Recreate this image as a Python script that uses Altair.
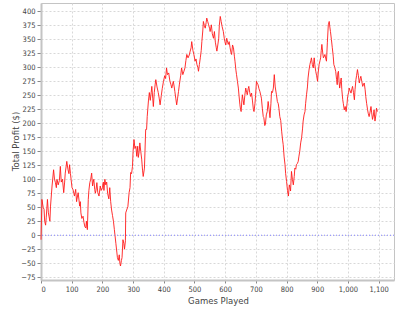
import altair as alt
import pandas as pd

games = [0, 3, 7, 10, 12, 15, 17, 21, 24, 26, 29, 31, 36, 41, 44, 47, 50, 52, 56, 60,
         63, 66, 70, 74, 77, 79, 84, 88, 91, 93, 96, 98, 101, 104, 107, 109, 113, 116, 117, 121,
         126, 128, 130, 133, 137, 140, 143, 146, 148, 151, 154, 156, 159, 162, 165, 168, 170, 172, 175, 177,
         179, 182, 185, 189, 193, 196, 200, 203, 205, 208, 211, 214, 217, 221, 224, 227, 230, 233, 236, 239,
         241, 244, 247, 249, 252, 255, 257, 259, 262, 264, 267, 270, 272, 275, 276, 279, 283, 287, 290, 292,
         295, 298, 300, 303, 306, 309, 312, 315, 317, 320, 322, 325, 328, 331, 333, 337, 341, 344, 346, 350,
         353, 356, 359, 361, 364, 366, 369, 372, 374, 378, 382, 385, 388, 392, 395, 399, 403, 406, 409, 412,
         416, 420, 423, 426, 429, 431, 434, 436, 439, 442, 445, 448, 451, 455, 458, 462, 465, 469, 472, 475,
         479, 483, 486, 489, 491, 495, 498, 502, 505, 508, 511, 513, 516, 519, 522, 524, 527, 529, 532, 535,
         538, 540, 543, 546, 549, 551, 555, 558, 562, 565, 568, 571, 573, 576, 579, 581, 584, 587, 590, 594,
         597, 599, 602, 605, 608, 610, 613, 616, 619, 621, 624, 627, 630, 632, 635, 637, 640, 643, 645, 648,
         650, 652, 654, 656, 659, 661, 664, 667, 670, 672, 675, 677, 680, 683, 686, 689, 692, 694, 697, 699,
         702, 704, 707, 710, 713, 716, 718, 721, 724, 726, 729, 731, 734, 737, 740, 743, 746, 749, 751, 754,
         757, 760, 763, 767, 770, 773, 775, 778, 781, 784, 787, 789, 792, 795, 797, 800, 803, 806, 809, 811,
         813, 816, 819, 822, 825, 827, 830, 832, 835, 838, 840, 843, 846, 849, 852, 854, 857, 860, 862, 865,
         868, 870, 873, 876, 879, 881, 884, 887, 890, 892, 895, 898, 901, 903, 906, 909, 911, 913, 915, 918,
         920, 923, 925, 928, 930, 933, 936, 939, 941, 943, 946, 949, 952, 954, 957, 960, 963, 965, 967, 969,
         971, 973, 976, 978, 980, 983, 985, 988, 991, 994, 997, 999, 1002, 1004, 1007, 1010, 1013, 1015, 1018, 1021,
         1023, 1026, 1028, 1031, 1034, 1037, 1040, 1042, 1045, 1048, 1051, 1053, 1056, 1058, 1061, 1064, 1066, 1069, 1072, 1075,
         1077, 1080, 1083, 1085, 1088, 1091, 1093, 1096]

profit = [-8, 64, 50, 46, 25, 18, 31, 64, 40, 34, 25, 52, 88, 117, 100, 94, 85, 100, 90, 98,
          123, 95, 100, 76, 95, 111, 132, 117, 110, 126, 110, 100, 85, 82, 75, 70, 82, 60, 64, 76,
          52, 60, 40, 30, 34, 23, 15, 13, 25, 10, 64, 80, 94, 100, 111, 88, 95, 100, 82, 75,
          80, 94, 76, 70, 88, 80, 85, 95, 80, 100, 90, 95, 75, 65, 85, 60, 45, 35, 25, 10,
          0, -15, -30, -40, -45, -35, -50, -55, -45, -40, -8, -15, -25, -10, 40, 45, 51, 76, 85, 112,
          110, 123, 150, 171, 155, 159, 141, 159, 139, 150, 165, 150, 136, 115, 105, 120, 189, 189, 212, 240,
          255, 241, 255, 266, 245, 230, 255, 270, 278, 265, 255, 245, 233, 250, 262, 275, 285, 280, 299, 287,
          290, 275, 270, 263, 270, 275, 265, 257, 245, 233, 245, 257, 270, 285, 299, 287, 292, 299, 312, 323,
          317, 322, 329, 335, 346, 330, 323, 311, 315, 305, 300, 293, 305, 317, 330, 346, 365, 382, 375, 370,
          380, 388, 382, 376, 370, 364, 376, 360, 352, 364, 345, 335, 329, 340, 352, 375, 391, 382, 373, 364,
          352, 346, 340, 352, 345, 341, 346, 335, 326, 323, 340, 335, 320, 311, 295, 287, 275, 263, 250, 233,
          225, 221, 238, 251, 240, 233, 250, 263, 255, 251, 262, 266, 255, 248, 254, 240, 224, 221, 235, 250,
          275, 272, 269, 262, 257, 250, 245, 227, 212, 210, 196, 198, 215, 221, 239, 225, 210, 235, 257, 255,
          263, 287, 265, 251, 239, 235, 227, 212, 205, 186, 170, 162, 140, 126, 110, 96, 80, 70, 90, 85,
          79, 114, 100, 90, 105, 120, 118, 126, 128, 132, 140, 150, 165, 174, 190, 204, 215, 221, 235, 251,
          265, 281, 295, 305, 312, 317, 305, 299, 317, 305, 293, 285, 275, 290, 305, 312, 317, 330, 341, 325,
          317, 320, 323, 315, 311, 345, 376, 382, 372, 364, 350, 335, 320, 305, 300, 293, 278, 269, 290, 293,
          275, 263, 275, 281, 260, 242, 235, 224, 230, 221, 235, 248, 255, 263, 258, 254, 262, 266, 255, 242,
          260, 278, 285, 296, 285, 272, 280, 284, 275, 266, 270, 272, 260, 248, 235, 224, 218, 212, 220, 230,
          220, 207, 215, 224, 204, 215, 227, 221]

x_ticks = list(range(0, 1101, 100))
y_ticks = list(range(-75, 401, 25))
zero_level = [0]

df = pd.DataFrame({"games": games, "profit": profit})
zdf = pd.DataFrame({"profit": zero_level})

x_enc = alt.X("games:Q",
              scale=alt.Scale(domain=[0, 1150], nice=False, zero=False),
              axis=alt.Axis(values=x_ticks, format=",d", title="Games Played",
                            labelOverlap=False,
                            titleX=177, titleY=20, titleBaseline="middle"))
y_enc = alt.Y("profit:Q",
              scale=alt.Scale(domain=[-80, 415], nice=False, zero=False),
              axis=alt.Axis(values=y_ticks, format="d", title="Total Profit ($)",
                            labelOverlap=False, labelFlush=False,
                            titleX=-26, titleY=138, titleBaseline="middle", titleAlign="center"))

line = alt.Chart(df).mark_line(color="#ff1a1a", strokeWidth=0.9, interpolate="linear").encode(
    x=x_enc, y=y_enc
)

zero = alt.Chart(zdf).mark_rule(color="#8585ff", strokeWidth=1, strokeDash=[1, 2]).encode(
    y=y_enc
)

chart = alt.layer(line, zero).properties(
    width=353, height=277,
    autosize=alt.AutoSizeParams(type="none"),
    padding={"left": 41, "top": 3, "right": 6, "bottom": 31},
    background="white",
).configure_view(
    stroke="#c4c4c4", strokeWidth=1
).configure_axis(
    labelFont="Liberation Sans Narrow, DejaVu Sans Condensed, Liberation Sans",
    labelFontSize=7.5,
    labelColor="#444444",
    labelOverlap=False,
    titleFont="DejaVu Sans",
    titleFontSize=8.5,
    titleFontWeight="normal",
    titleColor="#444444",
    gridColor="#d8d8d8",
    gridDash=[2, 2],
    gridWidth=1,
    domainColor="#c4c4c4",
    domainWidth=2,
    tickColor="#888888",
    tickSize=3,
    labelPadding=2,
).configure_axisY(
    tickSize=4,
)

chart.save("out.html", embed_options={"renderer": "svg", "actions": False})
